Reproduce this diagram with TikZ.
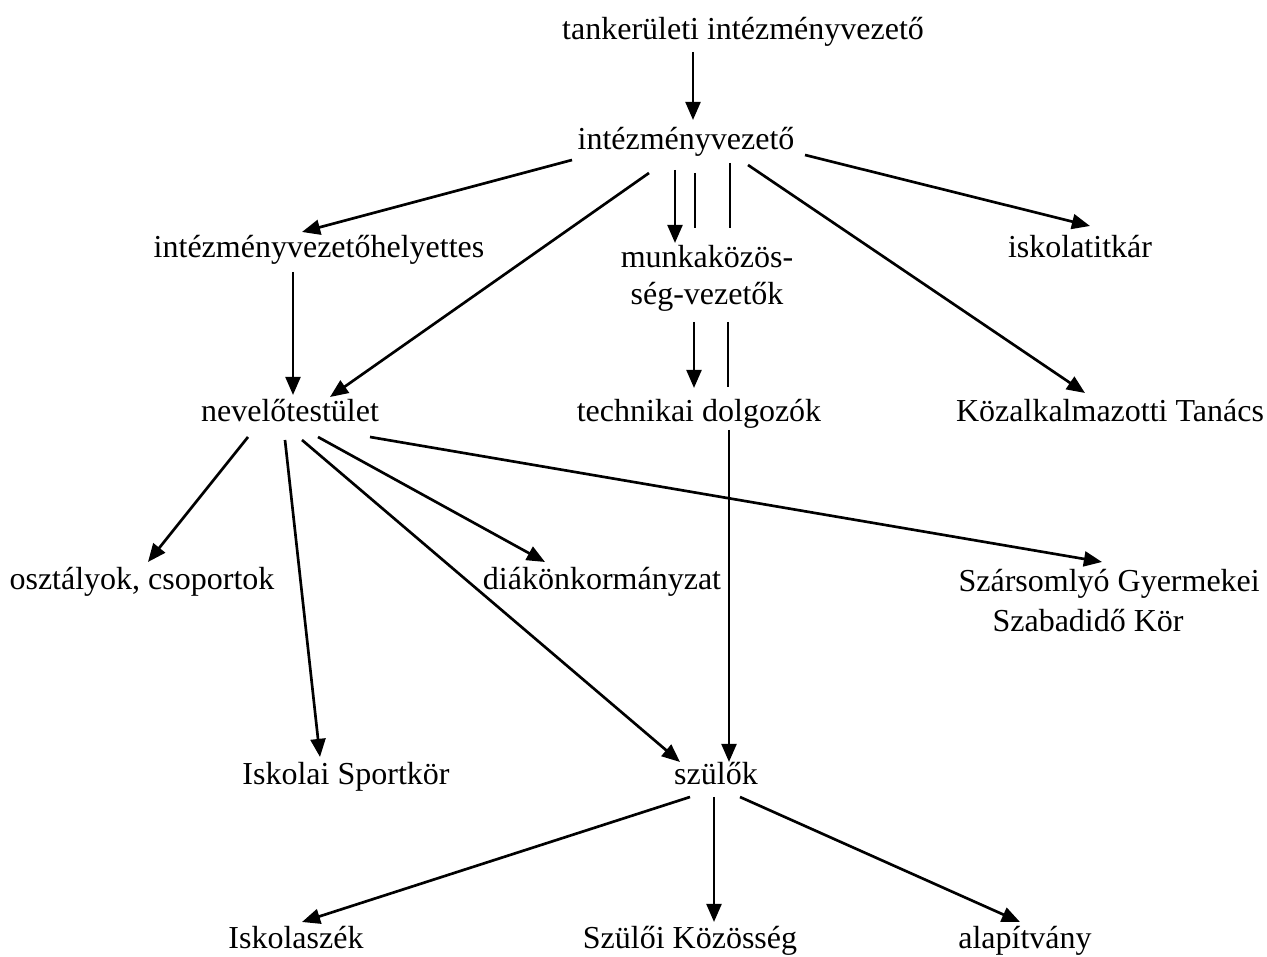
\documentclass[tikz,border=0pt]{standalone}
\usepackage{fontspec}
\setmainfont{Liberation Serif}
\usetikzlibrary{arrows.meta,calc}

\begin{document}
\begin{tikzpicture}[
    x=0.375pt, y=-0.375pt,
    every node/.style={font=\fontsize{12}{14}\selectfont, inner sep=0pt, anchor=base},
    arr/.style={line width=1pt, -{Triangle[length=6.8pt,width=5.6pt]}},
    bar/.style={line width=1pt},
    thinbar/.style={line width=0.6pt},
  ]
  \useasboundingbox (0,0) rectangle (1267,957);
  % nodes
  \node (tank) at (743,40) {tankerületi intézményvezető};
  \node (intv) at (686,150) {intézményvezető};
  \node (hely) at (319,258) {intézményvezetőhelyettes};
  \node[align=center, font=\fontsize{12}{13.9}\selectfont] (munka) at (707,305) {munkaközös-\\ség-vezetők};
  \node (titkar) at (1080,258) {iskolatitkár};
  \node (nevel) at (290,422) {nevelőtestület};
  \node (tech) at (699,422) {technikai dolgozók};
  \node (kozalk) at (1110,422) {Közalkalmazotti Tanács};
  \node (osztaly) at (142,590) {osztályok, csoportok};
  \node (diak) at (602,590) {diákönkormányzat};
  \node[align=left, anchor=base west, font=\fontsize{12}{15}\selectfont] (szars) at (958,632)
    {Szársomlyó Gyermekei\\\hspace*{12.75pt}Szabadidő Kör};
  \node (sport) at (346,785) {Iskolai Sportkör};
  \node (szulok) at (716,785) {szülők};
  \node (iszek) at (296,948) {Iskolaszék};
  \node (szkoz) at (690,948) {Szülői Közösség};
  \node (alap) at (1025,948) {alapítvány};

  % connectors
  \draw[arr] ($(tank.base)+(-50,12)$) -- ($(intv.base)+(7,-30)$);
  \draw[arr] ($(intv.base)+(-114,10)$) -- ($(hely.base)+(-17,-26)$);
  \draw[arr] ($(intv.base)+(-37,23)$) -- ($(nevel.base)+(40,-25)$);
  \draw[arr] ($(intv.base)+(-11,20)$) -- ($(munka.base)+(-32,-62)$);
  \draw[bar] ($(intv.base)+(9,23)$) -- ($(munka.base)+(-12,-77)$);
  \draw[thinbar] ($(intv.base)+(44,13)$) -- ($(munka.base)+(23,-77)$);
  \draw[arr] ($(intv.base)+(119,5)$) -- ($(titkar.base)+(10,-32)$);
  \draw[arr] ($(intv.base)+(62,15)$) -- ($(kozalk.base)+(-25,-29)$);
  \draw[arr] ($(munka.base)+(-13,17)$) -- ($(tech.base)+(-5,-34)$);
  \draw[thinbar] ($(munka.base)+(21,17)$) -- ($(tech.base)+(29,-35)$);
  \draw[arr] ($(tech.base)+(30,8)$) -- ($(szulok.base)+(13,-23)$);
  \draw[arr] ($(hely.base)+(-26,14)$) -- ($(nevel.base)+(3,-27)$);
  \draw[arr] ($(nevel.base)+(-42,15)$) -- ($(osztaly.base)+(6,-28)$);
  \draw[arr] ($(nevel.base)+(-5,18)$) -- ($(sport.base)+(-26,-28)$);
  \draw[arr] ($(nevel.base)+(12,18)$) -- ($(szulok.base)+(-36,-23)$);
  \draw[arr] ($(nevel.base)+(28,15)$) -- ($(diak.base)+(-57,-28)$);
  \draw[arr] ($(nevel.base)+(80,15)$) -- ($(szars.base west)+(144,-70)$);
  \draw[arr] ($(szulok.base)+(-26,12)$) -- ($(iszek.base)+(6,-26)$);
  \draw[arr] ($(szulok.base)+(-2,12)$) -- ($(szkoz.base)+(24,-26)$);
  \draw[arr] ($(szulok.base)+(24,12)$) -- ($(alap.base)+(-5,-26)$);
\end{tikzpicture}
\end{document}
